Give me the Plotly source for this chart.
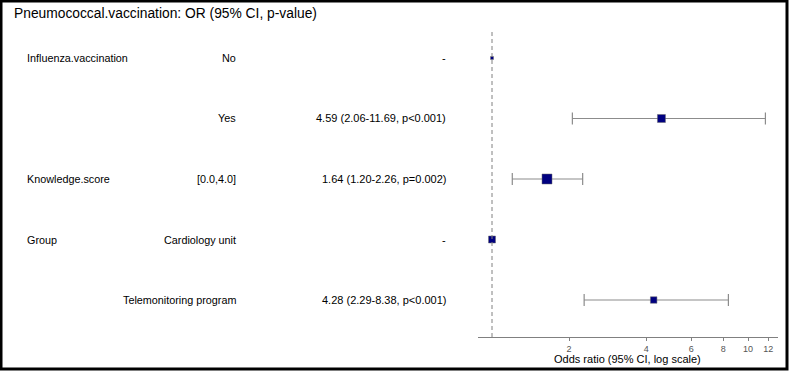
import plotly.graph_objects as go

# ---- data ----
variables = ["Influenza.vaccination", "", "Knowledge.score", "Group", ""]
levels = ["No", "Yes", "[0.0,4.0]", "Cardiology unit", "Telemonitoring program"]
or_labels = ["-", "4.59 (2.06-11.69, p<0.001)", "1.64 (1.20-2.26, p=0.002)", "-",
             "4.28 (2.29-8.38, p<0.001)"]
odds = [1.0, 4.59, 1.64, 1.0, 4.28]
lower = [None, 2.06, 1.20, None, 2.29]
upper = [None, 11.69, 2.26, None, 8.38]
marker_sizes = [3, 8, 10, 7, 6.5]
tick_vals = [2, 4, 6, 8, 10, 12]
title_text = "Pneumococcal.vaccination: OR (95% CI, p-value)"
xaxis_title = "Odds ratio (95% CI, log scale)"

W, H = 789, 371
rows = [5, 4, 3, 2, 1]
FONT = "Liberation Sans, Arial, sans-serif"

def px_x(p):
    return p / W

def px_y(p):
    return 1 - p / H

fig = go.Figure()

ci_idx = [i for i in range(len(odds)) if lower[i] is not None]
ref_idx = [i for i in range(len(odds)) if lower[i] is None]

fig.add_trace(go.Scatter(
    x=[odds[i] for i in ci_idx],
    y=[rows[i] for i in ci_idx],
    mode="markers",
    marker=dict(symbol="square", color="#000080", opacity=1,
                size=[marker_sizes[i] for i in ci_idx],
                line=dict(color="#6a6a6a", width=0.5)),
    error_x=dict(type="data", symmetric=False,
                 array=[upper[i] - odds[i] for i in ci_idx],
                 arrayminus=[odds[i] - lower[i] for i in ci_idx],
                 color="#8c8c8c", thickness=1.2, width=6),
    showlegend=False, hoverinfo="skip",
))
fig.add_trace(go.Scatter(
    x=[odds[i] for i in ref_idx],
    y=[rows[i] for i in ref_idx],
    mode="markers",
    marker=dict(symbol="square", color="#000080", opacity=1,
                size=[marker_sizes[i] for i in ref_idx],
                line=dict(color="#6a6a6a", width=0.5)),
    showlegend=False, hoverinfo="skip",
))

annotations = []
for i in range(len(rows)):
    if variables[i]:
        annotations.append(dict(x=px_x(25), y=rows[i], xref="paper", yref="y",
                                text=variables[i], showarrow=False, xanchor="left",
                                yanchor="middle", font=dict(family=FONT, size=10.8, color="#000")))
    annotations.append(dict(x=px_x(238), y=rows[i], xref="paper", yref="y",
                            text=levels[i], showarrow=False, xanchor="right",
                            yanchor="middle", font=dict(family=FONT, size=10.8, color="#000")))
    annotations.append(dict(x=px_x(448), y=rows[i], xref="paper", yref="y",
                            text=or_labels[i], showarrow=False, xanchor="right",
                            yanchor="middle", font=dict(family=FONT, size=11, color="#000")))

annotations.append(dict(x=px_x(12), y=px_y(13), xref="paper", yref="paper",
                        text=title_text, showarrow=False, xanchor="left", yanchor="middle",
                        font=dict(family=FONT, size=13.8, color="#000")))
annotations.append(dict(x=px_x(627), y=px_y(359), xref="paper", yref="paper",
                        text=xaxis_title, showarrow=False, xanchor="center", yanchor="middle",
                        font=dict(family=FONT, size=11, color="#000")))

y_bottom_px, y_top_px = 337, 30
row_top_px, row_bot_px = 58, 300
step = (row_bot_px - row_top_px) / 4
y_lo = 1 - (y_bottom_px - row_bot_px) / step
y_hi = 5 + (row_top_px - y_top_px) / step

shapes = [
    dict(type="line", xref="x", yref="y", x0=1, x1=1, y0=y_lo, y1=y_hi,
         line=dict(color="#808080", width=1, dash="4px,3px")),
    dict(type="rect", xref="paper", yref="paper",
         x0=px_x(1), x1=px_x(787), y0=px_y(369), y1=px_y(1),
         line=dict(color="#000", width=3), fillcolor="rgba(0,0,0,0)"),
]

fig.update_layout(
    width=W, height=H,
    margin=dict(l=0, r=0, t=0, b=0),
    paper_bgcolor="white", plot_bgcolor="white",
    annotations=annotations, shapes=shapes,
    xaxis=dict(type="log", domain=[px_x(478), px_x(778)],
               range=[-0.0547, 1.117],
               tickvals=tick_vals, ticktext=[str(v) for v in tick_vals],
               showgrid=False, zeroline=False,
               showline=True, linecolor="#808080", linewidth=1,
               ticks="outside", ticklen=3, tickcolor="#808080",
               tickfont=dict(family=FONT, size=9, color="#555")),
    yaxis=dict(domain=[px_y(y_bottom_px), px_y(y_top_px)], range=[y_lo, y_hi],
               showgrid=False, zeroline=False, showline=False,
               showticklabels=False, ticks=""),
)

fig.write_html("out.html", config={"displayModeBar": False},
               post_script="document.body.style.margin='0';document.body.style.overflow='hidden';")
